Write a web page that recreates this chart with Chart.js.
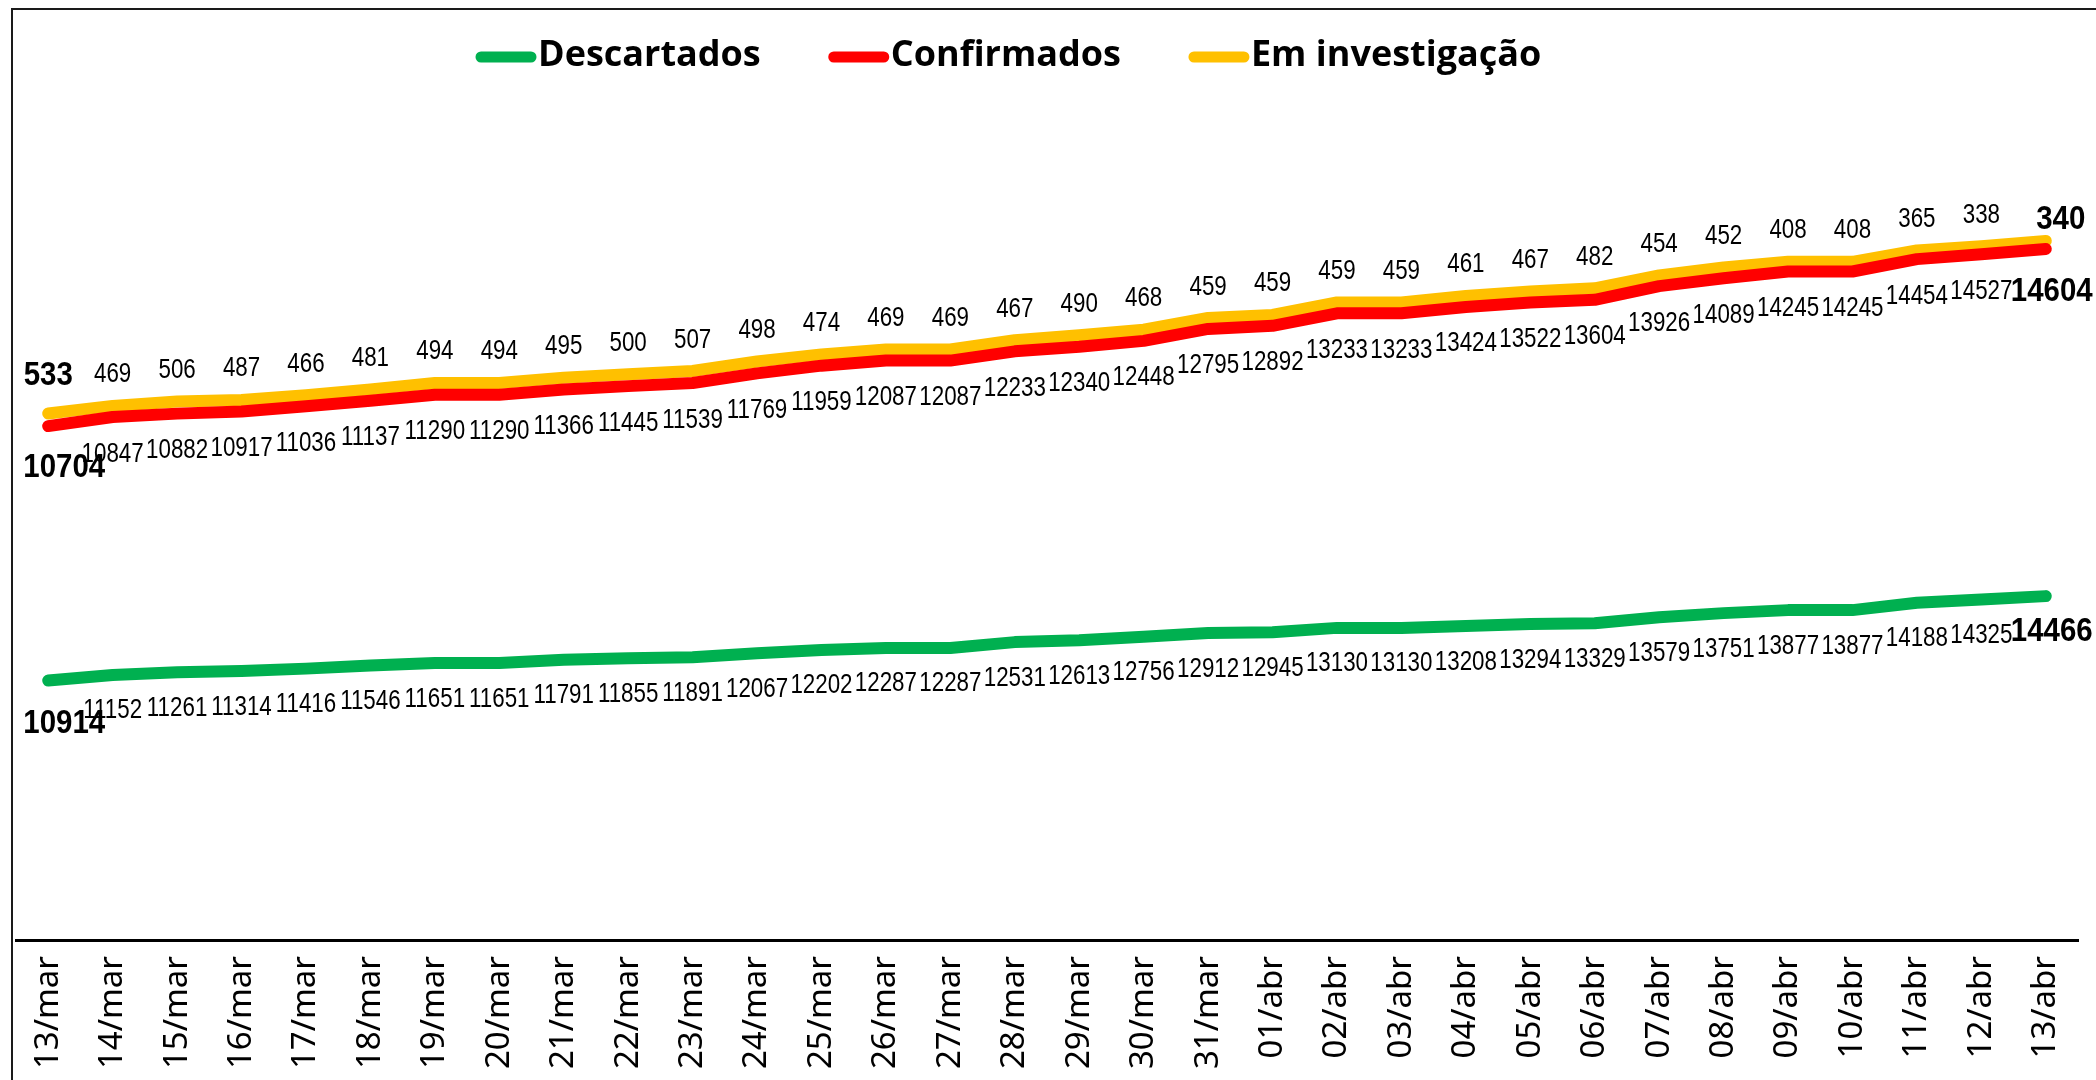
<!DOCTYPE html>
<html>
<head>
<meta charset="utf-8">
<script src="https://cdn.jsdelivr.net/npm/chart.js@4.4.1/dist/chart.umd.min.js"></script>
<style>
  html, body { margin: 0; padding: 0; background: #fff; overflow: hidden; }
  #frame { position: absolute; left: 11px; top: 8px; width: 2200px; height: 1200px; border: 2px solid #1a1a1a; }
  #wrap { position: absolute; left: 0; top: 0; width: 2096px; height: 1100px; }
</style>
</head>
<body>
<div id="frame"></div>
<div id="wrap"><canvas id="chart"></canvas></div>
<script>
const dias = [
  '13/mar', '14/mar', '15/mar', '16/mar', '17/mar', '18/mar', '19/mar', '20/mar',
  '21/mar', '22/mar', '23/mar', '24/mar', '25/mar', '26/mar', '27/mar', '28/mar',
  '29/mar', '30/mar', '31/mar', '01/abr', '02/abr', '03/abr', '04/abr', '05/abr',
  '06/abr', '07/abr', '08/abr', '09/abr', '10/abr', '11/abr', '12/abr', '13/abr'
];
const descartados = [
  10914, 11152, 11261, 11314, 11416, 11546, 11651, 11651, 11791, 11855, 11891,
  12067, 12202, 12287, 12287, 12531, 12613, 12756, 12912, 12945, 13130, 13130,
  13208, 13294, 13329, 13579, 13751, 13877, 13877, 14188, 14325, 14466
];
const confirmados = [
  10704, 10847, 10882, 10917, 11036, 11137, 11290, 11290, 11366, 11445, 11539,
  11769, 11959, 12087, 12087, 12233, 12340, 12448, 12795, 12892, 13233, 13233,
  13424, 13522, 13604, 13926, 14089, 14245, 14245, 14454, 14527, 14604
];
const emInvestigacao = [
  533, 469, 506, 487, 466, 481, 494, 494, 495, 500, 507, 498, 474, 469, 469, 467,
  490, 468, 459, 459, 459, 459, 461, 467, 482, 454, 452, 408, 408, 365, 338, 340
];

const labelFont = '26px "Liberation Sans", sans-serif';
const boldFont = 'bold 31px "Liberation Sans", sans-serif';

// label offsets per dataset: [normal dy, first dx/dy, last dx/dy]
const labelPos = [
  { dy: 36, first: [16, 43], last: [6, 36] },
  { dy: 37, first: [16, 42], last: [6, 43] },
  { dy: -31, first: [0, -37], last: [15, -21] }
];

const dataLabels = {
  id: 'dataLabels',
  afterDatasetsDraw(chart) {
    const ctx = chart.ctx;
    chart.data.datasets.forEach((ds, i) => {
      const meta = chart.getDatasetMeta(i);
      const pos = labelPos[i];
      const n = ds.data.length;
      meta.data.forEach((pt, j) => {
        let dx = 0, dy = pos.dy, sx = 0.86;
        const edge = j === 0 || j === n - 1;
        if (edge) {
          const p = j === 0 ? pos.first : pos.last;
          dx = p[0]; dy = p[1]; sx = 0.95;
        }
        ctx.save();
        ctx.fillStyle = '#000';
        ctx.textAlign = 'center';
        ctx.textBaseline = 'middle';
        ctx.font = edge ? boldFont : labelFont;
        ctx.translate(pt.x + dx, pt.y + dy);
        ctx.scale(sx, 1.05);
        ctx.fillText(String(ds.data[j]), 0, 0);
        ctx.restore();
      });
    });
  }
};

// legend drawn as thick rounded line + bold text, like the original
const lineLegend = {
  id: 'lineLegend',
  afterDraw(chart) {
    const ctx = chart.ctx;
    ctx.save();
    ctx.font = 'bold 36px "Open Sans", sans-serif';
    ctx.textBaseline = 'middle';
    let x = 475;
    const y = 56;
    chart.data.datasets.forEach((ds) => {
      ctx.strokeStyle = ds.borderColor;
      ctx.lineWidth = 11;
      ctx.lineCap = 'round';
      ctx.beginPath();
      ctx.moveTo(x + 6, y + 1);
      ctx.lineTo(x + 56, y + 1);
      ctx.stroke();
      x += 63;
      ctx.fillStyle = '#000';
      ctx.fillText(ds.label, x, y);
      x += ctx.measureText(ds.label).width + 67;
    });
    ctx.restore();
  }
};

const lineStyle = {
  borderWidth: 12,
  pointRadius: 0,
  pointHoverRadius: 0,
  fill: false,
  tension: 0,
  borderCapStyle: 'round',
  borderJoinStyle: 'round'
};

new Chart(document.getElementById('chart'), {
  type: 'line',
  data: {
    labels: dias,
    datasets: [
      { label: 'Descartados', data: descartados, borderColor: '#00B050', backgroundColor: '#00B050', ...lineStyle },
      { label: 'Confirmados', data: confirmados, borderColor: '#FF0000', backgroundColor: '#FF0000', ...lineStyle },
      { label: 'Em investigação', data: emInvestigacao, borderColor: '#FFC000', backgroundColor: '#FFC000', ...lineStyle }
    ]
  },
  options: {
    responsive: true,
    maintainAspectRatio: false,
    animation: false,
    layout: { padding: { top: 108, left: 16, right: 18, bottom: 0 } },
    plugins: {
      legend: { display: false },
      tooltip: { enabled: false }
    },
    scales: {
      x: {
        offset: true,
        grid: { display: false },
        border: { display: true, color: '#000', width: 3 },
        ticks: {
          autoSkip: false,
          maxRotation: 90,
          minRotation: 90,
          padding: 8,
          color: '#000',
          font: { family: '"Noto Sans", sans-serif', size: 33 }
        },
        afterFit(scale) { scale.height = 160; }
      },
      y: {
        display: false,
        stacked: true,
        min: 0,
        max: 35000
      }
    }
  },
  plugins: [dataLabels, lineLegend]
});
</script>
</body>
</html>
